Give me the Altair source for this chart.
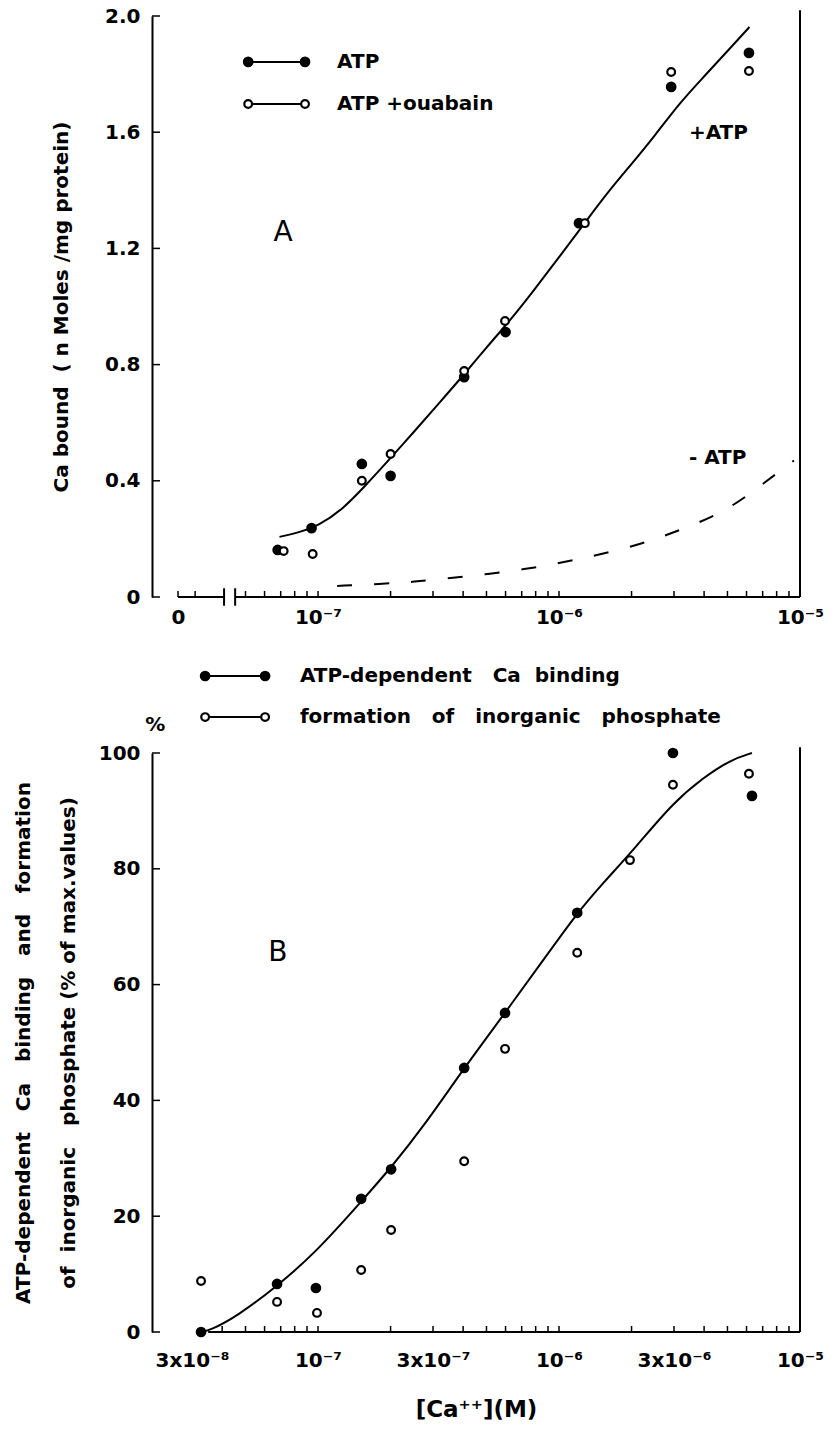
import altair as alt
import pandas as pd
import math

FONT = "DejaVu Sans"
FS = 20
NB = "\u00a0"
SUP = {"-": "\u207b", "5": "\u2075", "6": "\u2076", "7": "\u2077", "8": "\u2078", "+": "\u207a"}

X_MIN = 10 ** -7.689
X_MAX = 1e-5
W, HA, HB = 648, 581, 579

# ---------------- Panel A data ----------------
a_atp_x = [6.8e-8, 9.4e-8, 1.52e-7, 2.0e-7, 4.04e-7, 6.0e-7, 1.21e-6, 2.92e-6, 6.14e-6]
a_atp_y = [0.162, 0.237, 0.458, 0.417, 0.757, 0.912, 1.287, 1.756, 1.873]
a_oua_x = [7.2e-8, 9.5e-8, 1.52e-7, 2.0e-7, 4.04e-7, 5.97e-7, 1.28e-6, 2.92e-6, 6.14e-6]
a_oua_y = [0.158, 0.148, 0.400, 0.492, 0.778, 0.950, 1.287, 1.807, 1.811]
a_plus_x = [6.92e-8, 8.32e-8, 1.0e-7, 1.26e-7, 1.58e-7, 2.0e-7, 2.51e-7, 3.16e-7, 3.98e-7,
            5.01e-7, 6.31e-7, 7.94e-7, 1.0e-6, 1.26e-6, 1.58e-6, 2.0e-6, 2.51e-6, 3.16e-6,
            3.98e-6, 5.01e-6, 6.17e-6]
a_plus_y = [0.207, 0.222, 0.245, 0.30, 0.385, 0.478, 0.57, 0.665, 0.76, 0.86, 0.955, 1.06,
            1.17, 1.28, 1.39, 1.49, 1.59, 1.70, 1.79, 1.88, 1.962]
a_minus_x = [1.2e-7, 1.82e-7, 2.5e-7, 3.53e-7, 5.07e-7, 7.23e-7, 9.72e-7, 1.33e-6, 1.93e-6,
             2.67e-6, 3.70e-6, 5.13e-6, 6.76e-6, 9.44e-6]
a_minus_y = [0.038, 0.045, 0.052, 0.065, 0.079, 0.096, 0.114, 0.138, 0.169, 0.207, 0.251,
             0.306, 0.379, 0.47]
a_xtick_values = [10 ** -7.581, 1e-7, 1e-6, 1e-5]
a_xtick_labels = ["0", "10" + SUP["-"] + SUP["7"], "10" + SUP["-"] + SUP["6"], "10" + SUP["-"] + SUP["5"]]
a_minor_ticks = [10 ** -7.581, 10 ** -7.51, 5e-8, 6e-8, 7e-8, 8e-8, 9e-8, 1e-7,
                 2e-7, 3e-7, 4e-7, 5e-7, 6e-7, 7e-7, 8e-7, 9e-7, 1e-6,
                 2e-6, 3e-6, 4e-6, 5e-6, 6e-6, 7e-6, 8e-6, 9e-6]
a_ytick_values = [0, 0.4, 0.8, 1.2, 1.6, 2.0]
a_base_from = [10 ** -7.581, 10 ** -7.344]
a_base_to = [10 ** -7.39, 1e-5]
a_break_x = [10 ** -7.39, 10 ** -7.344]
a_legend_labels = ["ATP", "ATP" + NB + "+ouabain"]
a_legend_y = [1.842, 1.697]
a_legend_x = [5.13e-8, 8.83e-8, 1.2e-7]
a_notes = ["A", "+ATP", "-" + NB + "ATP"]
a_notes_x = [7.16e-8, 3.46e-6, 3.46e-6]
a_notes_y = [1.253, 1.597, 0.478]

# ---------------- Panel B data ----------------
b_atp_x = [3.27e-8, 6.76e-8, 9.8e-8, 1.51e-7, 2.01e-7, 4.04e-7, 5.97e-7, 1.19e-6, 2.97e-6, 6.32e-6]
b_atp_y = [0, 8.3, 7.6, 23.0, 28.1, 45.6, 55.1, 72.4, 100, 92.6]
b_pi_x = [3.27e-8, 6.76e-8, 9.9e-8, 1.51e-7, 2.01e-7, 4.04e-7, 5.97e-7, 1.19e-6, 1.97e-6, 2.97e-6, 6.14e-6]
b_pi_y = [8.8, 5.2, 3.3, 10.7, 17.6, 29.5, 48.9, 65.5, 81.5, 94.5, 96.4]
b_fit_x = [3.27e-8, 3.56e-8, 4.57e-8, 6.76e-8, 9.82e-8, 1.51e-7, 2.01e-7, 2.73e-7, 4.04e-7,
           5.97e-7, 8.59e-7, 1.19e-6, 1.52e-6, 2.09e-6, 2.97e-6, 3.96e-6, 5.13e-6, 6.32e-6]
b_fit_y = [0, 0.3, 2.6, 7.9, 13.8, 22.5, 28.4, 35.4, 45.6, 55.1, 64.2, 72.4, 77.5, 83.8, 91.4,
           95.7, 98.8, 100]
b_xtick_values = [3e-8, 1e-7, 3e-7, 1e-6, 3e-6, 1e-5]
b_xtick_labels = ["3x10" + SUP["-"] + SUP["8"], "10" + SUP["-"] + SUP["7"], "3x10" + SUP["-"] + SUP["7"],
                  "10" + SUP["-"] + SUP["6"], "3x10" + SUP["-"] + SUP["6"], "10" + SUP["-"] + SUP["5"]]
b_minor_ticks = [4e-8, 5e-8, 6e-8, 7e-8, 8e-8, 9e-8, 1e-7,
                 2e-7, 3e-7, 4e-7, 5e-7, 6e-7, 7e-7, 8e-7, 9e-7, 1e-6,
                 2e-6, 3e-6, 4e-6, 5e-6, 6e-6, 7e-6, 8e-6, 9e-6]
b_ytick_values = [0, 20, 40, 60, 80, 100]
b_base_from = [10 ** -7.456]
b_base_to = [1e-5]
b_legend_labels = ["ATP-dependent" + NB * 3 + "Ca" + NB * 2 + "binding",
                   "formation" + NB * 3 + "of" + NB * 3 + "inorganic" + NB * 3 + "phosphate"]
b_legend_y = [113.3, 106.2]
b_legend_x = [3.4e-8, 6.03e-8, 8.41e-8]
b_notes = ["B", "%"]
b_notes_x = [6.82e-8, 2.11e-8]
b_notes_y = [65.5, 104.8]


def label_expr(values, labels):
    expr = "'" + labels[-1] + "'"
    for i in range(len(values) - 2, -1, -1):
        thr = math.sqrt(values[i] * values[i + 1])
        expr = "datum.value < %r ? '%s' : (%s)" % (thr, labels[i], expr)
    return expr


def panel(h, ymax, yaxis, xaxis, pts_f, pts_o, fit, dashed, minor_ticks, yticks,
          base_from, base_to, break_x, leg_labels, leg_y, leg_x, notes, notes_x, notes_y,
          notes_sizes, notes_weights):
    xsc = alt.Scale(type="log", domain=[X_MIN, X_MAX])
    ysc = alt.Scale(domain=[0, ymax], zero=False, nice=False)

    def xs():
        return alt.X("x:Q", scale=xsc, axis=xaxis)

    def ye():
        return alt.Y("y:Q", scale=ysc, axis=yaxis)

    layers = []
    # baseline of x axis
    base_df = pd.DataFrame({"x": base_from, "x2": base_to, "y": [0] * len(base_from)})
    layers.append(alt.Chart(base_df).mark_rule(color="black", strokeWidth=2).encode(
        x=xs(), x2="x2:Q", y=ye()))
    # right border
    rb = pd.DataFrame({"x": [X_MAX], "y": [0], "y2": [ymax * 1.01]})
    layers.append(alt.Chart(rb).mark_rule(color="black", strokeWidth=2).encode(
        x=xs(), y=ye(), y2="y2:Q"))
    # inward x ticks
    tdf = pd.DataFrame({"x": minor_ticks, "y": [0] * len(minor_ticks)})
    layers.append(alt.Chart(tdf).mark_tick(orient="vertical", size=6, thickness=1.5,
                                           yOffset=-3, color="black", opacity=1).encode(
        x=xs(), y=ye()))
    # inward y ticks
    ytdf = pd.DataFrame({"x": [X_MIN] * len(yticks), "y": yticks})
    layers.append(alt.Chart(ytdf).mark_tick(orient="horizontal", size=8, thickness=1.5,
                                            xOffset=4, color="black", opacity=1).encode(
        x=xs(), y=ye()))
    # axis break
    if break_x:
        bdf = pd.DataFrame({"x": break_x, "y": [-0.015 * ymax] * 2, "y2": [0.015 * ymax] * 2})
        layers.append(alt.Chart(bdf).mark_rule(color="black", strokeWidth=2).encode(
            x=xs(), y=ye(), y2="y2:Q"))
    # fitted curves
    fdf = pd.DataFrame({"x": fit[0], "y": fit[1]})
    layers.append(alt.Chart(fdf).mark_line(color="black", strokeWidth=2,
                                           interpolate="basis").encode(x=xs(), y=ye()))
    if dashed:
        ddf = pd.DataFrame({"x": dashed[0], "y": dashed[1]})
        layers.append(alt.Chart(ddf).mark_line(color="black", strokeWidth=2, strokeDash=[15, 22],
                                               interpolate="basis").encode(x=xs(), y=ye()))
    # legend lines
    ldf = pd.DataFrame({"x": [leg_x[0]] * 2, "x2": [leg_x[1]] * 2, "y": leg_y})
    layers.append(alt.Chart(ldf).mark_rule(color="black", strokeWidth=2).encode(
        x=xs(), x2="x2:Q", y=ye()))
    # filled points + legend markers
    fpx = list(pts_f[0]) + [leg_x[0], leg_x[1]]
    fpy = list(pts_f[1]) + [leg_y[0], leg_y[0]]
    layers.append(alt.Chart(pd.DataFrame({"x": fpx, "y": fpy})).mark_point(
        shape="circle", filled=True, color="black", size=115, opacity=1).encode(x=xs(), y=ye()))
    opx = list(pts_o[0]) + [leg_x[0], leg_x[1]]
    opy = list(pts_o[1]) + [leg_y[1], leg_y[1]]
    layers.append(alt.Chart(pd.DataFrame({"x": opx, "y": opy})).mark_point(
        shape="circle", filled=True, fill="white", stroke="black", strokeWidth=2.2,
        size=60, opacity=1).encode(x=xs(), y=ye()))
    # legend text
    ltdf = pd.DataFrame({"x": [leg_x[2]] * 2, "y": leg_y, "t": leg_labels})
    layers.append(alt.Chart(ltdf).mark_text(align="left", baseline="middle", font=FONT,
                                            fontSize=FS, fontWeight="bold", color="black").encode(
        x=xs(), y=ye(), text="t:N"))
    # annotations
    for t, nx, ny, s, wgt in zip(notes, notes_x, notes_y, notes_sizes, notes_weights):
        ndf = pd.DataFrame({"x": [nx], "y": [ny], "t": [t]})
        align = "center" if t in ("A", "B", "%") else "left"
        layers.append(alt.Chart(ndf).mark_text(align=align, baseline="middle", font=FONT,
                                               fontSize=s, fontWeight=wgt, color="black").encode(
            x=xs(), y=ye(), text="t:N"))
    return alt.layer(*layers).properties(width=W, height=h)


common_axis = dict(grid=False, ticks=False, labelFont=FONT, labelFontSize=FS,
                   labelFontWeight="bold", labelColor="black", titleFont=FONT,
                   titleFontWeight="bold", titleColor="black",
                   labelOverlap=False, labelFlush=False)

a_yaxis = alt.Axis(values=a_ytick_values, domain=True, domainColor="black", domainWidth=2,
                   labelExpr="datum.value == 0 ? '0' : format(datum.value, '.1f')",
                   labelPadding=12, titlePadding=33, titleFontSize=FS,
                   title="Ca" + NB + "bound" + NB * 2 + "(" + NB + "n" + NB + "Moles" + NB + "/mg" + NB + "protein)",
                   **common_axis)
a_xaxis = alt.Axis(values=a_xtick_values, domain=False,
                   labelExpr=label_expr(a_xtick_values, a_xtick_labels),
                   labelPadding=10, title=None, **common_axis)

b_yaxis = alt.Axis(values=b_ytick_values, domain=True, domainColor="black", domainWidth=2,
                   labelPadding=12, titlePadding=20, titleLineHeight=45, titleFontSize=FS,
                   title=["ATP-dependent" + NB * 3 + "Ca" + NB * 3 + "binding" + NB * 3 + "and" + NB * 3 + "formation",
                          "of" + NB * 2 + "inorganic" + NB * 3 + "phosphate" + NB + "(%" + NB + "of" + NB + "max.values)"],
                   **common_axis)
b_xaxis = alt.Axis(values=b_xtick_values, domain=False,
                   labelExpr=label_expr(b_xtick_values, b_xtick_labels),
                   labelPadding=18, titlePadding=28, titleFontSize=23,
                   title="[Ca" + SUP["+"] + SUP["+"] + "](M)", **common_axis)

chart_a = panel(HA, 2.0, a_yaxis, a_xaxis, (a_atp_x, a_atp_y), (a_oua_x, a_oua_y),
                (a_plus_x, a_plus_y), (a_minus_x, a_minus_y), a_minor_ticks, a_ytick_values,
                a_base_from, a_base_to, a_break_x, a_legend_labels, a_legend_y, a_legend_x,
                a_notes, a_notes_x, a_notes_y, [28, FS, FS], ["normal", "bold", "bold"])
chart_b = panel(HB, 100, b_yaxis, b_xaxis, (b_atp_x, b_atp_y), (b_pi_x, b_pi_y),
                (b_fit_x, b_fit_y), None, b_minor_ticks, b_ytick_values,
                b_base_from, b_base_to, None, b_legend_labels, b_legend_y, b_legend_x,
                b_notes, b_notes_x, b_notes_y, [28, FS], ["normal", "bold"])

chart = alt.vconcat(chart_a, chart_b, spacing=156, bounds="flush").properties(
    padding={"left": 13, "top": 6, "right": 0, "bottom": 0},
    background="white",
).configure_view(stroke=None)

chart.save("out.html", embed_options={"renderer": "svg", "actions": False})
